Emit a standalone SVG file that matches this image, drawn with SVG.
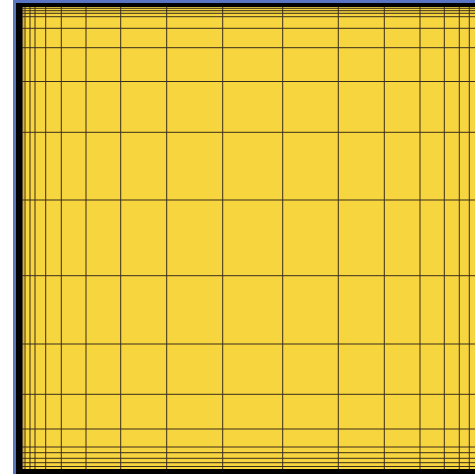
<svg xmlns="http://www.w3.org/2000/svg" width="475" height="474" viewBox="0 0 475 474">
<style>
.g line{stroke:#3b2d1c;stroke-width:1}
.l line{stroke:#6b5a30;stroke-width:1}
</style>
<rect x="0" y="0" width="475" height="474" fill="#ffffff"/>
<rect x="13" y="0" width="462" height="474" fill="#5a74c4"/>
<rect x="16" y="3" width="459" height="471" fill="#000000"/>
<rect x="22" y="7" width="453" height="462" fill="#f6d53f"/>
<g class="g">
<line x1="22" y1="8.3" x2="475" y2="8.3"/>
<line x1="22" y1="10.7" x2="475" y2="10.7"/>
<line x1="22" y1="13.3" x2="475" y2="13.3"/>
<line x1="22" y1="16.7" x2="475" y2="16.7"/>
<line x1="22" y1="28.3" x2="475" y2="28.3"/>
<line x1="22" y1="47.7" x2="475" y2="47.7"/>
<line x1="22" y1="81.5" x2="475" y2="81.5"/>
<line x1="22" y1="132.3" x2="475" y2="132.3"/>
<line x1="22" y1="200" x2="475" y2="200"/>
<line x1="22" y1="275.7" x2="475" y2="275.7"/>
<line x1="22" y1="344" x2="475" y2="344"/>
<line x1="22" y1="394.3" x2="475" y2="394.3"/>
<line x1="22" y1="429" x2="475" y2="429"/>
<line x1="22" y1="447" x2="475" y2="447"/>
<line x1="22" y1="452.7" x2="475" y2="452.7"/>
<line x1="22" y1="458.3" x2="475" y2="458.3"/>
<line x1="22" y1="462.7" x2="475" y2="462.7"/>
<line x1="22" y1="466.5" x2="475" y2="466.5"/>
<line x1="22.7" y1="7" x2="22.7" y2="469"/>
<line x1="25" y1="7" x2="25" y2="469"/>
<line x1="30" y1="7" x2="30" y2="469"/>
<line x1="35" y1="7" x2="35" y2="469"/>
<line x1="45.7" y1="7" x2="45.7" y2="469"/>
<line x1="61.3" y1="7" x2="61.3" y2="469"/>
<line x1="86" y1="7" x2="86" y2="469"/>
<line x1="120.7" y1="7" x2="120.7" y2="469"/>
<line x1="166.7" y1="7" x2="166.7" y2="469"/>
<line x1="222.7" y1="7" x2="222.7" y2="469"/>
<line x1="282.7" y1="7" x2="282.7" y2="469"/>
<line x1="338.3" y1="7" x2="338.3" y2="469"/>
<line x1="384.3" y1="7" x2="384.3" y2="469"/>
<line x1="420" y1="7" x2="420" y2="469"/>
<line x1="444.3" y1="7" x2="444.3" y2="469"/>
<line x1="459.3" y1="7" x2="459.3" y2="469"/>
<line x1="469.3" y1="7" x2="469.3" y2="469"/>
</g>
</svg>
